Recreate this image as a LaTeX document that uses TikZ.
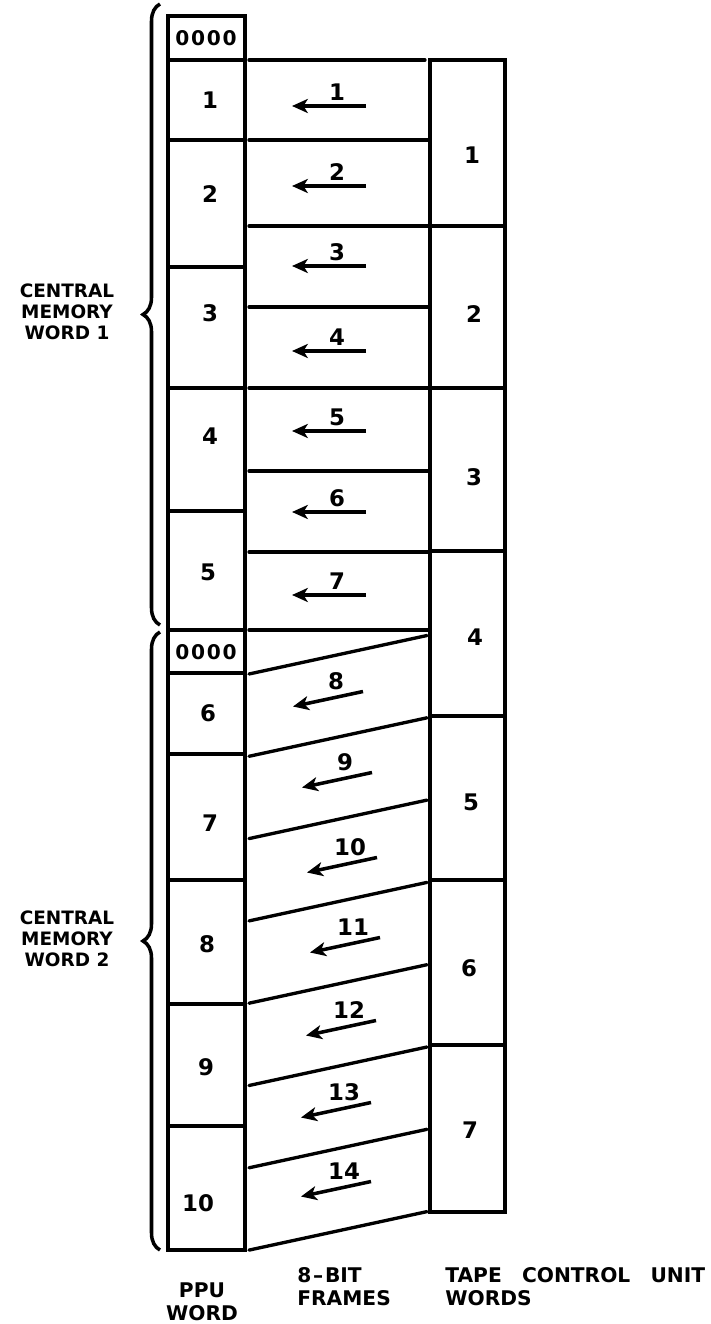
\documentclass[tikz,border=0pt]{standalone}
\usepackage{fontspec}
\setmainfont{DejaVu Sans}
\usetikzlibrary{arrows.meta,decorations.pathreplacing}

\tikzset{
    cell/.style={draw, line width=2pt},
    frameline/.style={line width=1.9pt, line cap=round},
    num/.style={font=\fontsize{13}{15}\selectfont\bfseries, inner sep=0pt},
    zeros/.style={font=\fontsize{11.5}{13}\selectfont\bfseries, inner sep=0pt},
    flow/.style={-{Stealth[length=9pt, width=8pt, inset=2.5pt]}, line width=2pt},
    caption/.style={font=\fontsize{11.5}{13}\selectfont\bfseries, align=left, inner sep=0pt},
    side/.style={font=\fontsize{10.5}{11.8}\selectfont\bfseries, align=center, inner sep=0pt},
    curly/.style={decorate, decoration={brace, amplitude=0.34cm}, line width=2pt}
}

\begin{document}
\begin{tikzpicture}[x=0.02cm, y=-0.02cm]
\useasboundingbox (0,0) rectangle (710,1324);

% PPU words
\foreach \t/\b in {16/60, 60/140, 140/267, 267/388, 388/511, 511/630, 630/673, 673/754, 754/880, 880/1004, 1004/1126, 1126/1250}
    \draw[cell] (168,\t) rectangle (245,\b);
\node[zeros] (zeroA) at (206,38) {0\kern1pt0\kern1pt0\kern1pt0};
\node[zeros] (zeroB) at (206,652) {0\kern1pt0\kern1pt0\kern1pt0};
\foreach \n/\x/\y in {1/210/100, 2/210/194, 3/210/313, 4/210/436, 5/208/572, 6/208/713, 7/210/823, 8/207/944, 9/206/1067, 10/198/1203}
    \node[num] (ppu\n) at (\x,\y) {\n};

% Tape control unit words
\foreach \t/\b in {60/226, 226/388, 388/551, 551/716, 716/880, 880/1045, 1045/1212}
    \draw[cell] (430,\t) rectangle (505,\b);
\foreach \n/\x/\y in {1/472/155, 2/474/314, 3/474/477, 4/475/637, 5/471/802, 6/469/968, 7/470/1130}
    \node[num] (tcu\n) at (\x,\y) {\n};

% 8-bit frames
\draw[frameline] (249,60) -- (425,60);
\foreach \y in {140, 226, 307, 388, 471, 552, 630}
    \draw[frameline] (249,\y) -- (428,\y);
\foreach \j in {0,...,7}
    \draw[frameline] (249,{674+82.3*\j}) -- (427,{635.5+82.3*\j});

% Frame transfers
\foreach \n/\y in {1/106, 2/186, 3/266, 4/351, 5/431, 6/512, 7/595} {
    \coordinate (s\n) at (366,\y);
    \coordinate (e\n) at (292,\y);
    \draw[flow] (s\n) -- (e\n);
    \node[num] (f\n) at (337,{\y-14}) {\n};
}
\foreach \n/\x/\y in {8/328/699, 9/337/780, 10/342/865, 11/345/945, 12/341/1028, 13/336/1110, 14/336/1189} {
    \coordinate (s\n) at ({\x+35},{\y-7.5});
    \coordinate (e\n) at ({\x-35},{\y+7.5});
    \draw[flow] (s\n) -- (e\n);
    \node[num] (f\n) at ({\x+8},{\y-18}) {\n};
}

% Central memory words
\draw[curly] (160,625) -- (160,4);
\draw[curly] (160,1250) -- (160,632);
\node[side] (cmw1) at (67,312) {CENTRAL\\MEMORY\\WORD 1};
\node[side] (cmw2) at (67,939) {CENTRAL\\MEMORY\\WORD 2};

% Column captions
\node[caption, align=center] (ppucap) at (202,1302) {PPU\\WORD};
\node[caption, anchor=west] (bitcap) at (297,1287) {8\kern1pt--\kern1pt BIT\\FRAMES};
\node[caption, anchor=west] (tcucap) at (445,1287) {TAPE\quad CONTROL\quad UNIT\\WORDS};

\end{tikzpicture}
\end{document}
